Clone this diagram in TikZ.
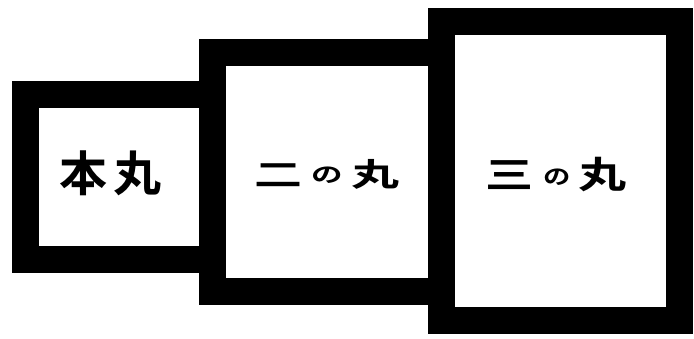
\documentclass[tikz,border=0pt]{standalone}
\usepackage{fontspec}
\newfontfamily\jpfont{Noto Sans CJK JP Bold}
\newcommand{\smallno}{\raisebox{4pt}{\fontsize{21}{21}\selectfont の}}
\usetikzlibrary{positioning}

\begin{document}
\begin{tikzpicture}[x=1pt,y=-1pt,
  ward/.style={draw,line width=27pt,line join=miter,inner sep=0pt},
  lbl/.style={font=\jpfont\fontsize{32}{32}\selectfont,inner sep=0pt}]
  \useasboundingbox (0,0) rectangle (694,338);
  % Walls of the three baileys
  \node[ward,minimum width=237.5pt,minimum height=299pt] (sannomaru) at (560.25,170.5) {};
  \node[ward,minimum width=229.5pt,minimum height=239.5pt] (ninomaru) at (326.75,171.75) {};
  \node[ward,minimum width=186.5pt,minimum height=165pt] (honmaru) at (118.75,176.5) {};
  % Names
  \node[lbl,font=\jpfont\fontsize{48}{48}\selectfont] (honmaru-t) at (110,173) {本\kern6pt丸};
  \node[lbl,xscale=1.5] (ninomaru-t) at (327,174) {二\kern6pt\smallno\kern6pt丸};
  \node[lbl,xscale=1.3,font=\jpfont\fontsize{37}{37}\selectfont] (sannomaru-t) at (556,175) {三\kern8pt\smallno\kern6pt丸};
\end{tikzpicture}
\end{document}
